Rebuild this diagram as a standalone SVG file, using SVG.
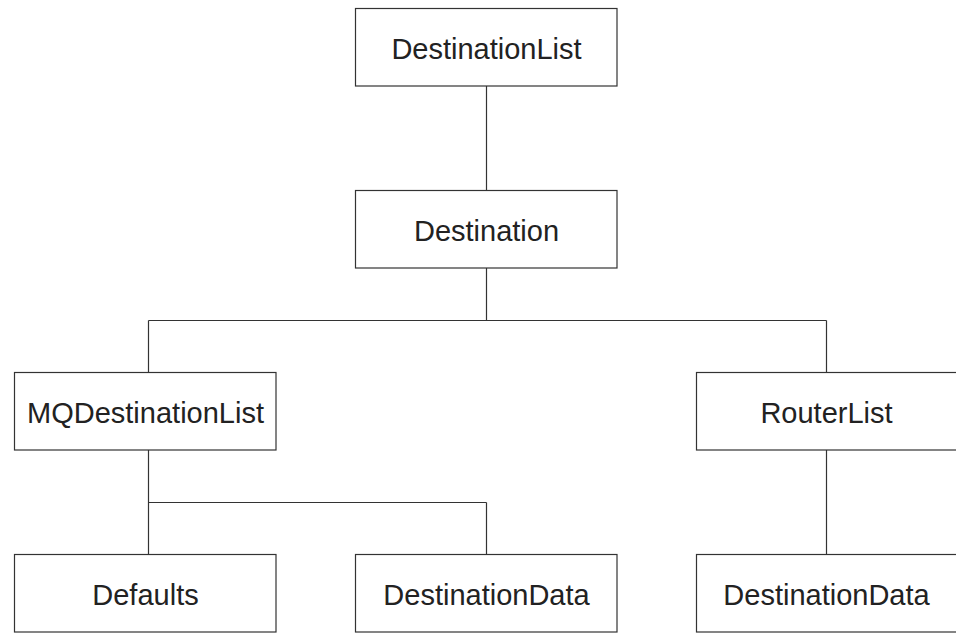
<svg xmlns="http://www.w3.org/2000/svg" width="956" height="633" viewBox="0 0 956 633">
  <style>
    .box { fill: #ffffff; stroke: #333333; stroke-width: 1.2; }
    .label { font-family: "Liberation Sans", Arial, sans-serif; font-size: 29px; fill: #222222; text-anchor: middle; }
    .wire { fill: none; stroke: #333333; stroke-width: 1.2; }
  </style>
  <rect width="956" height="633" fill="#ffffff"/>

  <!-- tree connectors -->
  <g id="connectors">
    <path class="wire" d="M486.5 86 V190"/>
    <path class="wire" d="M486.5 268 V320.5 M148.5 320.5 H826.5 M148.5 320.5 V372 M826.5 320.5 V372"/>
    <path class="wire" d="M148.5 450 V502.5 H486.5 M148.5 502.5 V554 M486.5 502.5 V554"/>
    <path class="wire" d="M826.5 450 V554"/>
  </g>

  <g id="destination-list">
    <rect class="box" x="355.5" y="8.5" width="261.5" height="77.5"/>
    <text class="label" x="486.5" y="58.5">DestinationList</text>
  </g>

  <g id="destination">
    <rect class="box" x="355.5" y="190.5" width="261.5" height="77.5"/>
    <text class="label" x="486.5" y="240.5">Destination</text>
  </g>

  <g id="mq-destination-list">
    <rect class="box" x="14.5" y="372.5" width="261.5" height="77.5"/>
    <text class="label" x="145.5" y="422.5">MQDestinationList</text>
  </g>

  <g id="router-list">
    <rect class="box" x="696.5" y="372.5" width="261.5" height="77.5"/>
    <text class="label" x="826.5" y="422.5">RouterList</text>
  </g>

  <g id="defaults">
    <rect class="box" x="14.5" y="554.5" width="261.5" height="77.5"/>
    <text class="label" x="145.5" y="604.5">Defaults</text>
  </g>

  <g id="mq-destination-data">
    <rect class="box" x="355.5" y="554.5" width="261.5" height="77.5"/>
    <text class="label" x="486.5" y="604.5">DestinationData</text>
  </g>

  <g id="router-destination-data">
    <rect class="box" x="696.5" y="554.5" width="261.5" height="77.5"/>
    <text class="label" x="826.5" y="604.5">DestinationData</text>
  </g>
</svg>
